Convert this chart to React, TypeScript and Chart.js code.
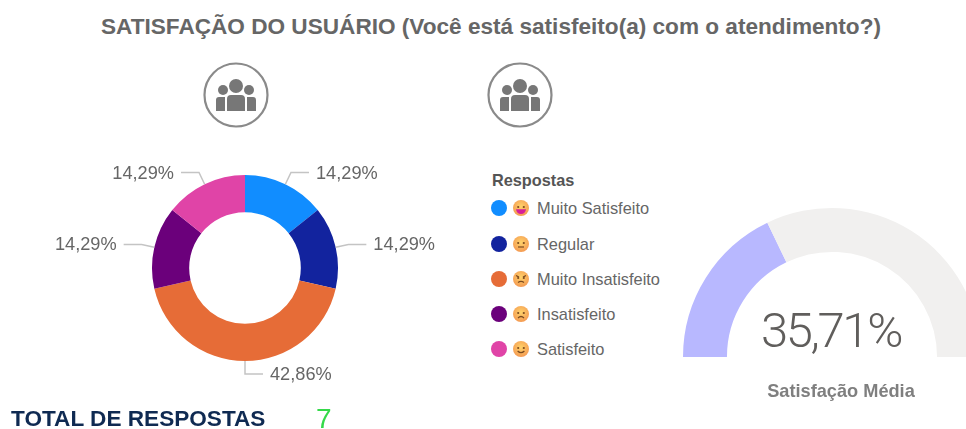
import React, { useEffect, useRef } from "react";
import { Chart, registerables } from "chart.js";

Chart.register(...registerables);

const title = "SATISFAÇÃO DO USUÁRIO (Você está satisfeito(a) com o atendimento?)";
const categories = ["Muito Satisfeito", "Regular", "Muito Insatisfeito", "Insatisfeito", "Satisfeito"];
const responses = [1, 1, 3, 1, 1];
const percentLabels = ["14,29%", "14,29%", "42,86%", "14,29%", "14,29%"];
const colors = ["#118DFF", "#12239E", "#E66C37", "#6B007B", "#E044A7"];
const moods = ["grin", "flat", "angry", "sad", "smile"];
const legendTitle = "Respostas";
const legendRows = [208, 244, 279, 314, 349];
const gaugeValues = [35.71, 64.29];
const gaugeColors = ["#B8B8FF", "#F1F0EF"];
const gaugeLabel = "35,71%";
const gaugeCaption = "Satisfação Média";
const totalLabel = "TOTAL DE RESPOSTAS";
const totalValue = "7";

const sans = '"Liberation Sans", Arial, sans-serif';

const leaderPlugin = {
  id: "leaders",
  afterDatasetsDraw(chart: any) {
    const { ctx } = chart;
    const arcs = chart.getDatasetMeta(0).data;
    ctx.save();
    ctx.font = `18.2px ${sans}`;
    ctx.textBaseline = "middle";
    arcs.forEach((arc: any, i: number) => {
      const p = arc.getProps(["x", "y", "startAngle", "endAngle", "outerRadius"], true);
      const mid = (p.startAngle + p.endAngle) / 2;
      const cos = Math.cos(mid);
      const sin = Math.sin(mid);
      const x0 = p.x + cos * p.outerRadius;
      const y0 = p.y + sin * p.outerRadius;
      const x1 = p.x + cos * (p.outerRadius + 13);
      const y1 = p.y + sin * (p.outerRadius + 13);
      const dir = cos >= -0.001 ? 1 : -1;
      const x2 = x1 + dir * 18;
      ctx.strokeStyle = "#C4C4C4";
      ctx.lineWidth = 1.5;
      ctx.beginPath();
      ctx.moveTo(x0, y0);
      ctx.lineTo(x1, y1);
      ctx.lineTo(x2, y1);
      ctx.stroke();
      ctx.fillStyle = "#666666";
      ctx.textAlign = dir > 0 ? "left" : "right";
      ctx.fillText(percentLabels[i], x2 + dir * 7, y1 + 1);
    });
    ctx.restore();
  },
};

function Face({ mood }: { mood: string }) {
  const m = "#7a4a20";
  return (
    <svg width="16" height="16" viewBox="0 0 16 16" style={{ display: "block" }}>
      <defs>
        <radialGradient id={"f" + mood} cx="50%" cy="40%" r="60%">
          <stop offset="0%" stopColor="#FFD36A" />
          <stop offset="100%" stopColor="#F49A52" />
        </radialGradient>
      </defs>
      <circle cx="8" cy="8" r="8" fill={`url(#f${mood})`} />
      {mood === "angry" ? (
        <g stroke={m} strokeWidth="1.2" fill="none">
          <path d="M3 4.5l3 1.6M13 4.5l-3 1.6" />
          <path d="M5 11.5q3-2.4 6 0" />
        </g>
      ) : null}
      <circle cx="5.2" cy="7" r="1.1" fill={m} />
      <circle cx="10.8" cy="7" r="1.1" fill={m} />
      {mood === "grin" ? <path d="M3 9.2h10q-.6 4.8-5 4.8t-5-4.8z" fill="#D6209A" /> : null}
      {mood === "flat" ? <path d="M5 11h6" stroke={m} strokeWidth="1.2" /> : null}
      {mood === "sad" ? <path d="M5 12q3-3 6 0" stroke={m} strokeWidth="1.2" fill="none" /> : null}
      {mood === "smile" ? <path d="M4.6 10q3.4 3.4 6.8 0" stroke={m} strokeWidth="1.2" fill="none" /> : null}
    </svg>
  );
}

function PeopleIcon({ left }: { left: number }) {
  const c = "#777777";
  return (
    <svg width="68" height="68" viewBox="0 0 68 68" style={{ position: "absolute", left, top: 61 }}>
      <circle cx="34" cy="34" r="31.5" fill="none" stroke="#8A8A8A" strokeWidth="2.2" />
      <circle cx="34" cy="25" r="7" fill={c} />
      <circle cx="21" cy="29" r="5" fill={c} />
      <circle cx="47" cy="29" r="5" fill={c} />
      <path d="M25 50V38q0-4 4-4h10q4 0 4 4v12z" fill={c} />
      <path d="M14 50V39q0-3 3-3h6v14z" fill={c} />
      <path d="M54 50V39q0-3-3-3h-6v14z" fill={c} />
    </svg>
  );
}

export default function App() {
  const donutRef = useRef<HTMLCanvasElement>(null);
  const gaugeRef = useRef<HTMLCanvasElement>(null);

  useEffect(() => {
    const donut = new Chart(donutRef.current!, {
      type: "doughnut",
      data: {
        labels: categories,
        datasets: [{ data: responses, backgroundColor: colors, borderWidth: 0 }],
      },
      options: {
        animation: false,
        responsive: false,
        radius: 93,
        cutout: "60%",
        plugins: { legend: { display: false }, tooltip: { enabled: false } },
      } as any,
      plugins: [leaderPlugin],
    });
    const gauge = new Chart(gaugeRef.current!, {
      type: "doughnut",
      data: {
        labels: ["Satisfação", "Restante"],
        datasets: [{ data: gaugeValues, backgroundColor: gaugeColors, borderWidth: 0 }],
      },
      options: {
        animation: false,
        responsive: false,
        rotation: -90,
        circumference: 180,
        radius: 149,
        cutout: "70.5%",
        plugins: { legend: { display: false }, tooltip: { enabled: false } },
      } as any,
    });
    return () => {
      donut.destroy();
      gauge.destroy();
    };
  }, []);

  const abs: React.CSSProperties = { position: "absolute", whiteSpace: "nowrap", lineHeight: 1 };

  return (
    <div style={{ position: "fixed", inset: 0, overflow: "hidden", background: "#fff", fontFamily: sans }}>
      <div style={{ ...abs, left: 0, width: 982, top: 16, textAlign: "center", fontWeight: 700, fontSize: 22.6, color: "#666666" }}>
        {title}
      </div>
      <PeopleIcon left={202} />
      <PeopleIcon left={486} />
      <canvas ref={donutRef} width={450} height={320} style={{ position: "absolute", left: 20, top: 108 }} />
      <canvas ref={gaugeRef} width={320} height={201} style={{ position: "absolute", left: 672, top: 182 }} />
      <div style={{ ...abs, left: 492, top: 172, fontSize: 16.3, fontWeight: 700, color: "#555555" }}>{legendTitle}</div>
      {categories.map((name, i) => (
        <React.Fragment key={name}>
          <div style={{ position: "absolute", left: 491, top: legendRows[i] - 8, width: 16, height: 16, borderRadius: 8, background: colors[i] }} />
          <div style={{ position: "absolute", left: 513, top: legendRows[i] - 8 }}>
            <Face mood={moods[i]} />
          </div>
          <div style={{ ...abs, left: 537, top: legendRows[i] - 8, fontSize: 16.4, color: "#666666" }}>{name}</div>
        </React.Fragment>
      ))}
      <div style={{ ...abs, left: 682, width: 298, top: 306, textAlign: "center", fontFamily: "Roboto, sans-serif", fontWeight: 300, fontSize: 49, letterSpacing: -2.4, color: "#605E5C" }}>
        {gaugeLabel}
      </div>
      <div style={{ ...abs, left: 682, width: 318, top: 382, textAlign: "center", fontWeight: 700, fontSize: 18.2, color: "#7F7F7F" }}>
        {gaugeCaption}
      </div>
      <div style={{ ...abs, left: 11, top: 408, fontWeight: 700, fontSize: 22.6, color: "#0F2A52" }}>{totalLabel}</div>
      <div style={{ ...abs, left: 316, top: 405, fontSize: 28, color: "#35D94A" }}>{totalValue}</div>
    </div>
  );
}
